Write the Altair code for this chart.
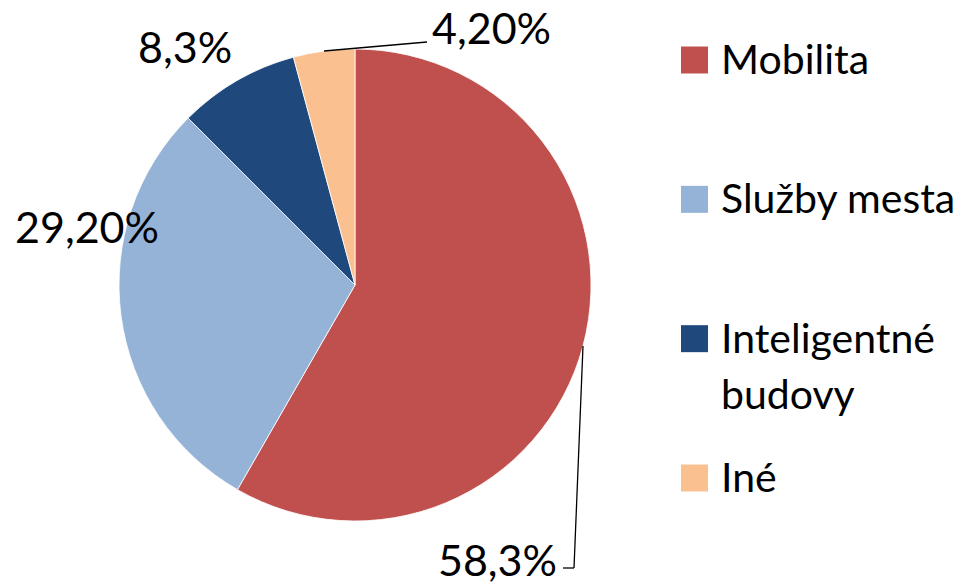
import altair as alt
import pandas as pd

categories = ["Mobilita", "Služby mesta", "Inteligentné budovy", "Iné"]
legend_labels = ["Mobilita", "Služby mesta", "Inteligentné\nbudovy", "Iné"]
values = [58.3, 29.2, 8.3, 4.2]
value_labels = ["58,3%", "29,20%", "8,3%", "4,20%"]
colors = ["#C0504D", "#95B3D7", "#1F497D", "#FAC090"]

df = pd.DataFrame({
    "cat": categories,
    "legend": legend_labels,
    "value": values,
    "label": value_labels,
    "order": list(range(len(categories))),
})

FONT = "Lato"
CX, CY, R = 347, 277, 236

base = alt.Chart(df)
color = alt.Color("cat:N", scale=alt.Scale(domain=categories, range=colors), legend=None)

pie = base.mark_arc(radius=R, stroke="white", strokeWidth=0.8).encode(
    theta=alt.Theta("value:Q", stack=True),
    order=alt.Order("order:Q"),
    color=color,
    x=alt.value(CX),
    y=alt.value(CY),
)

# value labels (positions as in the reference's best-fit placement)
label_pos = {
    "Mobilita": (549, 568, "right"),
    "Služby mesta": (7, 235, "left"),
    "Inteligentné budovy": (130, 55, "left"),
    "Iné": (424, 36, "left"),
}
labels = []
for cat, (lx, ly, al) in label_pos.items():
    labels.append(
        base.transform_filter(alt.datum.cat == cat)
        .mark_text(font=FONT, fontSize=43, align=al, baseline="alphabetic", color="#000000")
        .encode(text="label:N", x=alt.value(lx), y=alt.value(ly))
    )

lead1 = base.transform_filter(alt.datum.cat == "Iné").mark_rule(color="#000000", strokeWidth=1.3).encode(
    x=alt.value(316), y=alt.value(43), x2=alt.value(419), y2=alt.value(34))
lead2a = base.transform_filter(alt.datum.cat == "Mobilita").mark_rule(color="#000000", strokeWidth=1.3).encode(
    x=alt.value(575), y=alt.value(338), x2=alt.value(566), y2=alt.value(560))
lead2b = base.transform_filter(alt.datum.cat == "Mobilita").mark_rule(color="#000000", strokeWidth=1.3).encode(
    x=alt.value(566), y=alt.value(560), x2=alt.value(555), y2=alt.value(560))

ly = alt.Y("cat:N", scale=alt.Scale(type="point", domain=categories, range=[52, 470], padding=0), axis=None)

leg_sq = base.mark_square(size=729, opacity=1).encode(
    x=alt.value(686.5), y=ly, color=color)
leg_tx = base.mark_text(font=FONT, fontSize=41, align="left", baseline="alphabetic",
                        dy=14, lineBreak="\n", lineHeight=56, color="#000000").encode(
    x=alt.value(713), y=ly, text="legend:N")

chart = alt.layer(pie, *labels, lead1, lead2a, lead2b, leg_sq, leg_tx).properties(
    width=961, height=575, autosize=alt.AutoSizeParams(type="none"), padding=0,
    background="white",
).configure_view(stroke=None)

chart.save("out.html", embed_options={"renderer": "svg", "actions": False})
